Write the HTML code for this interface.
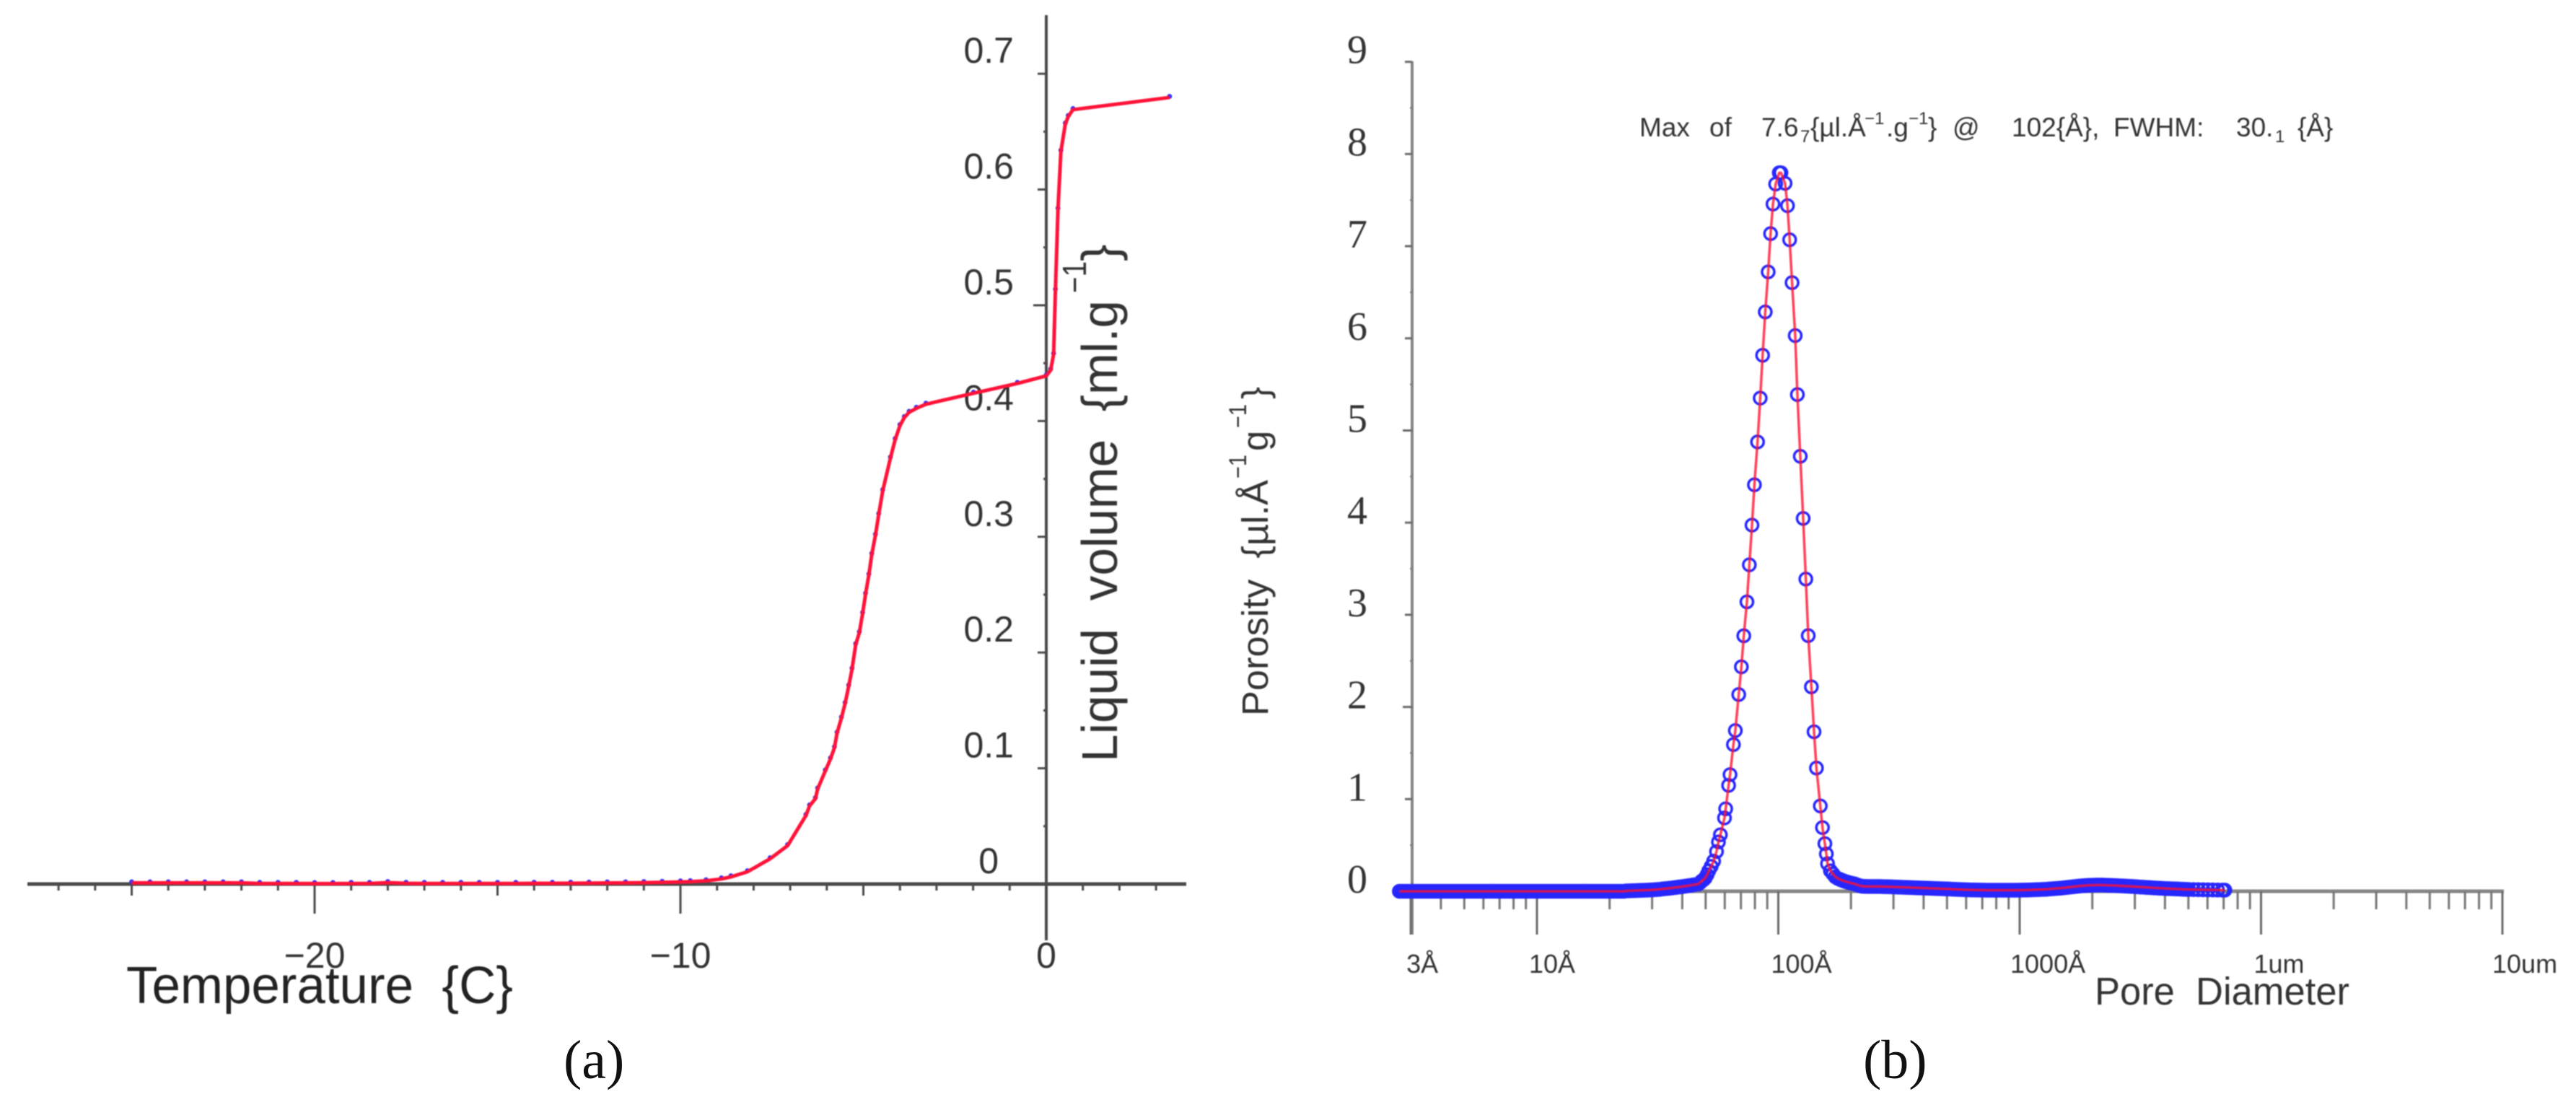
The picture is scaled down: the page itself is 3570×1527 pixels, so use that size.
<!DOCTYPE html>
<html lang="en">
<head>
<meta charset="utf-8">
<title>Liquid volume and pore size distribution</title>
<style>
html,body{margin:0;padding:0;background:#fff;width:3570px;height:1527px;overflow:hidden}
svg{display:block;position:absolute;left:0;top:0}
text{font-family:"Liberation Sans",sans-serif;fill:#333;white-space:pre}
.serif{font-family:"Liberation Serif",serif}
</style>
</head>
<body>
<svg id="figure" xmlns="http://www.w3.org/2000/svg" width="3570" height="1527" viewBox="0 0 3570 1527">
  <rect width="3570" height="1527" fill="#fff"/>
  <g id="soft" style="filter:blur(0.9px)">
    <g id="panelA">
      <text x="175" y="1390" font-size="72" textLength="536" lengthAdjust="spacingAndGlyphs" fill="#222" style="fill:#222">Temperature  {C}</text>
      <text transform="rotate(-90 1548 1056)" x="1548" y="1056" font-size="70" textLength="640" lengthAdjust="spacingAndGlyphs">Liquid  volume  {ml.g</text>
      <text transform="rotate(-90 1505 406)" x="1505" y="406" font-size="46" textLength="44" lengthAdjust="spacingAndGlyphs">−1</text>
      <text transform="rotate(-90 1548 362)" x="1548" y="362" font-size="70">}</text>
    </g>
    <g id="panelB">
      <text y="189" font-size="37"><tspan x="2272">Max</tspan><tspan x="2369">of</tspan><tspan x="2441">7.6</tspan><tspan x="2495" y="197" font-size="24">7</tspan><tspan x="2509" y="189">{µl.Å</tspan><tspan x="2584" y="172" font-size="24">−1</tspan><tspan x="2614" y="189">.g</tspan><tspan x="2645" y="172" font-size="24">−1</tspan><tspan x="2672" y="189">}</tspan><tspan x="2706">@</tspan><tspan x="2788">102{Å},</tspan><tspan x="2929">FWHM:</tspan><tspan x="3099">30.</tspan><tspan x="3153" y="197" font-size="24">1</tspan><tspan x="3184" y="189">{Å}</tspan></text>
      <text x="2903" y="1392" font-size="54" textLength="353" lengthAdjust="spacingAndGlyphs">Pore  Diameter</text>
      <text transform="rotate(-90 1757 992)" x="1757" y="992" font-size="51" textLength="327" lengthAdjust="spacingAndGlyphs">Porosity  {µl.Å</text>
      <text transform="rotate(-90 1727 663)" x="1727" y="663" font-size="34" textLength="33" lengthAdjust="spacingAndGlyphs">−1</text>
      <text transform="rotate(-90 1757 625)" x="1757" y="625" font-size="51">g</text>
      <text transform="rotate(-90 1727 593)" x="1727" y="593" font-size="34" textLength="33" lengthAdjust="spacingAndGlyphs">−1</text>
      <text transform="rotate(-90 1757 553)" x="1757" y="553" font-size="51">}</text>
    </g>
  </g>
  <text class="serif" x="781" y="1494" font-size="76" style="fill:#111">(a)</text>
  <text class="serif" x="2582" y="1494" font-size="76" style="fill:#111">(b)</text>
</svg>
<script>
// ---- Panel (a) data ----
const temperatureC = [
-25,-24.5,-24,-23.5,-23,-22.5,-22,-21.5,-21,-20.5,-20,-19.5,-19,-18.5,-18,-17.5,-17,-16.5,-16,-15.5,-15,-14.5,-14,-13.5,-13,-12.5,-12,-11.5,-11,-10.5,-10,
-9.73,-9.3,-8.88,-8.62,-8.17,-7.55,-7.07,-6.57,-6.47,-6.31,-6.25,-6.04,-5.9,-5.79,-5.72,-5.6,-5.5,-5.4,-5.31,-5.21,-5.11,-5.02,-4.94,-4.85,-4.77,-4.67,-4.58,-4.47,
-4.26,-4.13,-4,-3.88,-3.75,-3.55,-3.29,-1.99,-0.79,0,0.12,0.2,0.25,0.32,0.4,0.52,0.6,0.73,3.37];
const liquidVolume = [
0.001,0.001,0.001,0.001,0.001,0.001,0.001,0.0005,0.0005,0.0005,0.0004,0.0004,0.0005,0.0005,0.0012,0.0006,0.0005,0.0005,0.0005,0.0005,0.0005,0.0005,0.0006,0.0006,0.0007,0.0008,0.0009,0.001,0.0012,0.0015,0.0018,
0.002,0.0028,0.0044,0.0062,0.0106,0.0218,0.0332,0.0592,0.0675,0.0738,0.0821,0.0977,0.108,0.1178,0.1303,0.1434,0.1559,0.171,0.1856,0.2068,0.2171,0.2338,0.2504,0.267,0.2847,0.3013,0.3192,0.3398,
0.368,0.384,0.396,0.403,0.4075,0.411,0.4145,0.424,0.4325,0.439,0.444,0.4575,0.513,0.583,0.633,0.6565,0.663,0.669,0.6795];
const tempMinorTicks = [-27,-26,-24,-23,-22,-21,-19,-18,-17,-16,-14,-13,-12,-11,-9,-8,-7,-6,-4,-3,-2,-1,1,2,3];
const tempMidTicks = [-25,-15,-5];
const tempLabelTicks = [-20,-10];
const tempLabels = ['−20','−10','0'];
const tempLabelValues = [-20,-10,0];
const volumeTicks = [0.1,0.2,0.3,0.4,0.5,0.6,0.7];
const volumeLabels = ['0','0.1','0.2','0.3','0.4','0.5','0.6','0.7'];
const volumeLabelValues = [0,0.1,0.2,0.3,0.4,0.5,0.6,0.7];
const volumeMinorTicks = [0.05,0.15,0.25,0.35,0.45,0.55,0.65];

// ---- Panel (b) data ----
const logDiameter = [
0.43,0.44,0.45,0.46,0.47,0.48,0.49,0.50,0.51,0.52,
0.53,0.54,0.55,0.56,0.57,0.58,0.59,0.60,0.61,0.62,
0.63,0.64,0.65,0.66,0.67,0.68,0.69,0.70,0.71,0.72,
0.73,0.74,0.75,0.76,0.77,0.78,0.79,0.80,0.81,0.82,
0.83,0.84,0.85,0.86,0.87,0.88,0.89,0.90,0.91,0.92,
0.93,0.94,0.95,0.96,0.97,0.98,0.99,1.00,1.01,1.02,
1.03,1.04,1.05,1.06,1.07,1.08,1.09,1.10,1.11,1.12,
1.13,1.14,1.15,1.16,1.17,1.18,1.19,1.20,1.21,1.22,
1.23,1.24,1.25,1.26,1.27,1.28,1.29,1.30,1.31,1.32,
1.33,1.34,1.35,1.36,
1.37,1.38,1.39,1.40,1.41,1.42,1.43,1.44,1.45,1.46,
1.47,1.48,1.49,1.50,1.51,1.52,1.53,1.54,1.55,1.56,
1.57,1.58,1.59,1.60,1.61,1.62,1.63,1.64,1.65,
1.668,1.675,1.682,1.69,1.697,1.705,1.712,1.722,1.732,1.744,1.752,1.76,1.777,
1.782,1.794,1.8,1.814,1.822,1.836,1.847,1.857,1.87,1.88,
1.891,1.901,1.914,1.925,1.935,1.946,1.958,1.968,1.978,1.989,
2.004,2.011,
2.028,2.038,2.047,2.057,2.07,2.079,2.091,2.103,2.114,2.124,
2.137,2.148,2.158,2.174,2.183,2.193,2.199,2.204,
2.216,2.226,2.236,2.246,2.256,2.266,2.276,2.286,2.296,2.306,2.316,2.326,2.336,2.345,2.352,
2.36,2.37,2.38,2.39,2.40,2.41,2.42,2.43,2.44,2.45,
2.46,2.47,2.48,2.49,2.50,2.51,2.52,2.53,2.54,2.55,
2.56,2.57,2.58,2.59,2.60,2.61,2.62,2.63,2.64,2.65,
2.66,2.67,2.68,2.69,2.70,2.71,2.72,2.73,2.74,2.75,
2.76,2.77,2.78,2.79,2.80,2.81,2.82,2.83,2.84,2.85,
2.86,2.87,2.88,2.89,2.90,2.91,2.92,2.93,2.94,2.95,
2.96,2.97,2.98,2.99,3.00,3.01,3.02,3.03,3.04,3.05,
3.06,3.07,3.08,3.09,3.10,3.11,3.12,3.13,3.14,3.15,
3.16,3.17,3.18,3.19,3.20,3.21,3.22,3.23,3.24,3.25,
3.26,3.27,3.28,3.29,3.30,3.31,3.32,3.33,3.34,3.35,
3.36,3.37,3.38,3.39,3.40,3.41,3.42,3.43,3.44,3.45,
3.46,3.47,3.48,3.49,3.50,3.51,3.52,3.53,3.54,3.55,
3.56,3.57,3.58,3.59,3.60,3.61,3.62,3.63,3.64,3.65,
3.66,3.67,3.68,3.69,3.70,
3.72,3.74,3.76,3.78,3.8,3.82,3.84,3.85];
const porosity = [
0,0,0,0,0,0,0,0,0,0,
0,0,0,0,0,0,0,0,0,0,
0,0,0,0,0,0,0,0,0,0,
0,0,0,0,0,0,0,0,0,0,
0,0,0,0,0,0,0,0,0,0,
0,0,0,0,0,0,0,0,0,0,
0,0,0,0,0,0,0,0,0,0,
0,0,0,0,0,0,0,0,0,0,
0,0,0,0,0,0,0,0,0,0,
0,0,0,0,
0.004,0.005,0.006,0.007,0.008,0.009,0.01,0.011,0.012,0.013,
0.015,0.016,0.018,0.02,0.022,0.025,0.028,0.03,0.033,0.036,
0.04,0.043,0.047,0.05,0.054,0.058,0.062,0.066,0.07,
0.078,0.092,0.11,0.125,0.143,0.18,0.222,0.27,0.327,0.431,0.535,0.613,0.796,
0.895,1.149,1.266,1.592,1.744,2.135,2.435,2.772,3.14,3.542,
3.973,4.411,4.876,5.351,5.816,6.286,6.721,7.136,7.457,7.674,
7.797,7.797,
7.682,7.439,7.069,6.604,6.03,5.39,4.72,4.046,3.388,2.774,
2.218,1.731,1.337,0.926,0.691,0.517,0.405,0.3,
0.222,0.19,0.157,0.14,0.128,0.117,0.108,0.1,0.092,0.086,0.08,0.07,0.062,0.055,0.054,
0.053,0.052,0.052,0.052,0.052,0.052,0.052,0.051,0.05,0.05,
0.049,0.048,0.047,0.046,0.045,0.044,0.043,0.042,0.041,0.04,
0.039,0.038,0.037,0.036,0.035,0.034,0.033,0.032,0.031,0.03,
0.029,0.028,0.027,0.026,0.025,0.024,0.023,0.022,0.021,0.02,
0.019,0.018,0.017,0.016,0.015,0.015,0.014,0.014,0.013,0.013,
0.012,0.012,0.012,0.012,0.012,0.012,0.012,0.012,0.012,0.012,
0.012,0.012,0.012,0.012,0.013,0.013,0.014,0.014,0.015,0.016,
0.017,0.018,0.019,0.02,0.021,0.022,0.024,0.026,0.028,0.03,
0.032,0.034,0.037,0.04,0.043,0.046,0.049,0.052,0.055,0.058,
0.06,0.062,0.064,0.065,0.066,0.067,0.068,0.068,0.068,0.067,
0.066,0.065,0.064,0.063,0.062,0.06,0.059,0.058,0.056,0.055,
0.053,0.052,0.05,0.048,0.046,0.045,0.043,0.041,0.04,0.038,
0.036,0.035,0.033,0.032,0.03,0.029,0.028,0.027,0.026,0.025,
0.024,0.023,0.022,0.021,0.02,
0.019,0.018,0.017,0.016,0.015,0.014,0.013,0.013];
const poreMajorTicks = [3,10,100,1000,10000,100000];
const poreLabels = ['3Å','10Å','100Å','1000Å','1um','10um'];
const poreLabelOffsets = [-6,-11,-10,-13,-10,-14];
const poreMinorTicks = [4,5,6,7,8,9,20,30,40,50,60,70,80,90,200,300,400,500,600,700,800,900,2000,3000,4000,5000,6000,7000,8000,9000,20000,30000,40000,50000,60000,70000,80000,90000];
const porosityTicks = [0,1,2,3,4,5,6,7,8,9];
const porosityMinorTicks = [0.5,1.5,2.5,3.5,4.5,5.5,6.5,7.5,8.5];

// ---- Axis functions ----
const xA = t => 1450 + 50.7 * t;
const yA = v => 1225 - 1604 * v;
const xB = logD => 2130 + 334.5 * (logD - 1);
const yB = v => 1235 - 127.7 * v;

const NS = 'http://www.w3.org/2000/svg';
function mk(parent, tag, attrs, txt){
  const el = document.createElementNS(NS, tag);
  for (const k in attrs) el.setAttribute(k, attrs[k]);
  if (txt !== undefined) el.textContent = txt;
  parent.appendChild(el);
  return el;
}
function seg(parent, x1, y1, x2, y2, color, w){
  return mk(parent, 'line', {x1:x1, y1:y1, x2:x2, y2:y2, stroke:color, 'stroke-width':w});
}
const A = document.getElementById('panelA');
const B = document.getElementById('panelB');
const colA = '#4a4a4a', colB = '#858585';
let el;

// Panel (a) axes
el = seg(A, 38, 1225, 1644, 1225, colA, 5);


el = seg(A, 1450, 21, 1450, 1303, colA, 4);


tempMinorTicks.forEach(t => {
  el = seg(A, xA(t), 1225, xA(t), 1234, colA, 3);
  
  
});
tempMidTicks.forEach(t => {
  el = seg(A, xA(t), 1225, xA(t), 1241, colA, 3);
  
  
});
tempLabelTicks.forEach(t => {
  el = seg(A, xA(t), 1225, xA(t), 1266, colA, 3);
  
  
});
tempLabels.forEach((s, i) => {
  el = mk(A, 'text', {x:xA(tempLabelValues[i]), y:1341, 'font-size':50, 'text-anchor':'middle'}, s);
  
  
});
volumeTicks.forEach(v => {
  const len = v === 0.5 ? 18 : 12;
  el = seg(A, 1450 - len, yA(v), 1450, yA(v), colA, 3);
  
  
});
volumeMinorTicks.forEach(v => {
  el = seg(A, 1446, yA(v), 1450, yA(v), colA, 3);
  
  
});
volumeLabels.forEach((s, i) => {
  const v = volumeLabelValues[i];
  el = mk(A, 'text', {x:1405, y:yA(v) - 15, 'font-size':50, 'text-anchor':'end'}, s);
  if (v === 0) el.setAttribute('x', 1384);
  
  
});
// Panel (a) series
temperatureC.forEach((t, i) => {
  el = mk(A, 'circle', {cx:xA(t), cy:yA(liquidVolume[i]) - 1.5, r:3.4, fill:'#3030ff'});
  
  
});
el = mk(A, 'polyline', {points:temperatureC.map((t, i) => xA(t) + ',' + yA(liquidVolume[i])).join(' '), fill:'none', stroke:'#ff1238', 'stroke-width':5, 'stroke-linejoin':'round'});



// Panel (b) axes
el = seg(B, 1956, 1235, 3470, 1235, colB, 5);


el = seg(B, 1957, 85, 1957, 1295, colB, 4);


poreMajorTicks.forEach((d, i) => {
  const x = xB(Math.log10(d));
  el = seg(B, x, 1235, x, 1295, '#6a6a6a', 3);
  
  
  el = mk(B, 'text', {x:x + poreLabelOffsets[i], y:1348, 'font-size':36}, poreLabels[i]);
  
  
});
poreMinorTicks.forEach(d => {
  const x = xB(Math.log10(d));
  el = seg(B, x, 1235, x, 1260, '#777', 3);
  
  
});
porosityTicks.forEach(v => {
  el = seg(B, v === 5 || v === 2 ? 1944 : 1947, yB(v), 1957, yB(v), '#6a6a6a', 3);
  
  
  el = mk(B, 'text', {x:1881, y:yB(v) + 2, 'font-size':56, 'text-anchor':'middle', 'class':'serif'}, String(v));
  
  
});
porosityMinorTicks.forEach(v => {
  el = seg(B, 1954, yB(v), 1957, yB(v), '#777', 2);
  
  
});
// Panel (b) series
logDiameter.forEach((d, i) => {
  el = mk(B, 'circle', {cx:xB(d), cy:yB(porosity[i]), r:8.5, fill:'none', stroke:'#2626ff', 'stroke-width':3.5});
  
  
});
el = mk(B, 'polyline', {points:logDiameter.map((d, i) => xB(d) + ',' + yB(porosity[i])).join(' '), fill:'none', stroke:'#ff1030', 'stroke-width':3.5, 'stroke-opacity':0.8, 'stroke-linejoin':'round'});


</script>
</body>
</html>
